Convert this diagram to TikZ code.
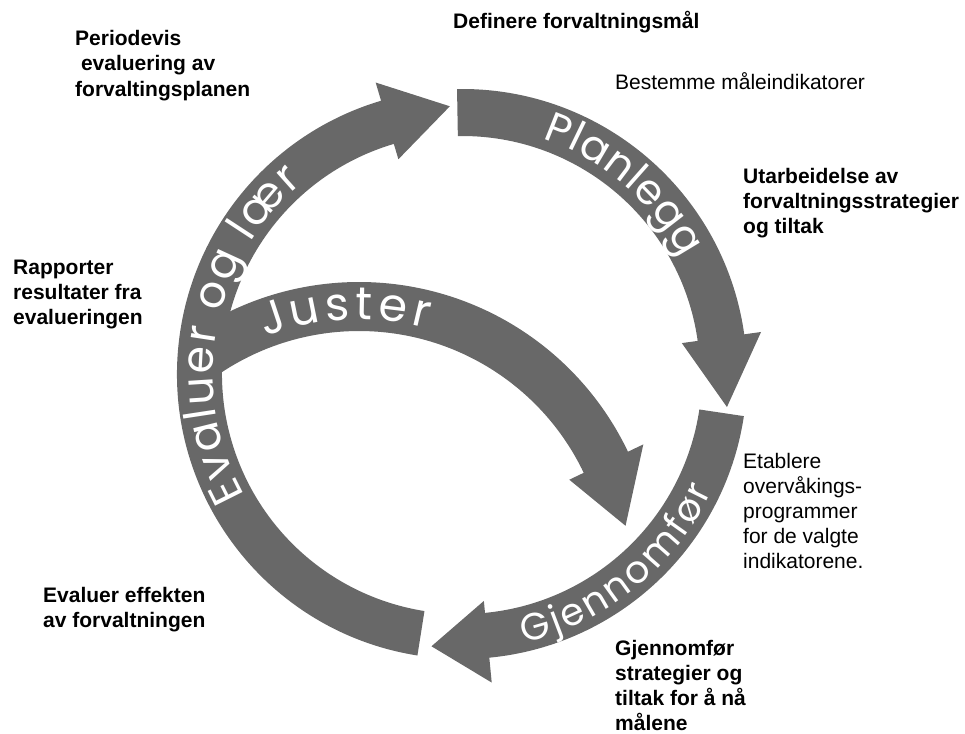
\documentclass[tikz,border=0pt]{standalone}
\usepackage{fontspec}
\setmainfont{Liberation Sans}
\newfontfamily\arcfont{Poppins}
\usetikzlibrary{decorations.text}
\definecolor{bandgray}{RGB}{104,104,104}
\begin{document}
\begin{tikzpicture}[x=1pt,y=1pt,
  band/.style={fill=bandgray},
  boldlbl/.style={anchor=base west, inner sep=0pt, align=left, font=\bfseries\fontsize{21}{25.3}\selectfont},
  plainlbl/.style={anchor=base west, inner sep=0pt, align=left, font=\fontsize{21}{25}\selectfont},
  arctext/.style 2 args={decorate, decoration={text along path, text align=fit to path, raise=-13pt,
      text={|\arcfont\fontsize{#1}{#1}\selectfont\color{white}|#2}}}
]
\useasboundingbox (0,0) rectangle (965,-733);
\coordinate (C) at (462,-374);
\coordinate (J) at (359,-580);

% Juster arrow (drawn first, it emerges from the Evaluer band)
\begin{scope}[shift={(J)}]
\fill[band] (125:298) arc[start angle=125,end angle=25.5,radius=298] -- (25.5:315) -- (11.5:272)
  -- (25.5:233) -- (25.5:249) arc[start angle=25.5,end angle=125,radius=249] -- cycle;
\end{scope}

\begin{scope}[shift={(C)}]
% Evaluer og laer
\fill[band] (261:285) arc[start angle=261,end angle=106.5,radius=285] -- (106.5:304) -- (92.6:268)
  -- (106.5:224) -- (106.5:240) arc[start angle=106.5,end angle=261,radius=240] -- cycle;
% Planlegg
\fill[band] (91:285) arc[start angle=91,end angle=8,radius=285] -- (8:302) -- (-7.1:267)
  -- (8:222) -- (8:238) arc[start angle=8,end angle=91,radius=238] -- cycle;
% Gjennomfor
\fill[band] (-8.5:285) arc[start angle=-8.5,end angle=-84.5,radius=285] -- (-84.5:310) -- (-96.4:274)
  -- (-84.5:228) -- (-84.5:240) arc[start angle=-84.5,end angle=-8.5,radius=240] -- cycle;

\path[arctext={44}{Evaluer og lær}] (209:262) arc[start angle=209,end angle=130,radius=262];
\path[arctext={42}{Planlegg}] (71:262) arc[start angle=71,end angle=28,radius=262];
\path[arctext={38}{Gjennomfør}] (-77:263) arc[start angle=-77,end angle=-25,radius=263];
\end{scope}

\begin{scope}[shift={(J)}]
\path[arctext={46}{Juster}] (111:273.5) arc[start angle=111,end angle=75,radius=273.5];
\end{scope}

\node[boldlbl] (periodevis) at (75,-96.1) {Periodevis\\\hspace*{5.8pt}evaluering av\\forvaltingsplanen};
\node[boldlbl] (definere) at (453,-29) {Definere forvaltningsmål};
\node[plainlbl] (bestemme) at (615,-90) {Bestemme måleindikatorer};
\node[boldlbl] (utarbeidelse) at (743,-233.6) {Utarbeidelse av\\forvaltningsstrategier\\og tiltak};
\node[boldlbl] (rapporter) at (13,-324.6) {Rapporter\\resultater fra\\evalueringen};
\node[plainlbl] (etablere) at (743,-568) {Etablere\\overvåkings-\\programmer\\for de valgte\\indikatorene.};
\node[boldlbl] (evaluer) at (43,-627.3) {Evaluer effekten\\av forvaltningen};
\node[boldlbl, font=\bfseries\fontsize{21}{25}\selectfont] (gjennomfor) at (615,-730) {Gjennomfør\\strategier og\\tiltak for å nå\\målene};
\end{tikzpicture}
\end{document}
